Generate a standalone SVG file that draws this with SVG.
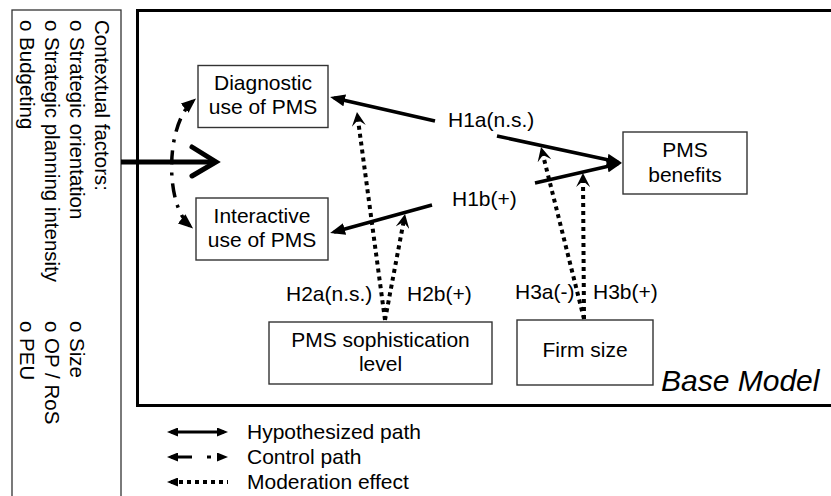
<svg xmlns="http://www.w3.org/2000/svg" width="831" height="496" viewBox="0 0 831 496">
<style>
text{font-family:"Liberation Sans",Arial,sans-serif;font-size:21px;fill:#000}
.box{fill:#fff;stroke:#333;stroke-width:1.4}
.hyp{fill:none;stroke:#000;stroke-width:3.5}
.ctl{fill:none;stroke:#000;stroke-width:3.5;stroke-dasharray:14 8 3 8}
.mod{fill:none;stroke:#000;stroke-width:4;stroke-dasharray:4 4}
.c{text-anchor:middle}
</style>
<defs>
<marker id="arr" markerUnits="userSpaceOnUse" markerWidth="15" markerHeight="12" refX="11" refY="6" orient="auto-start-reverse" viewBox="0 0 15 12">
<path d="M0,0 L15,6 L0,12 z" fill="#000"/>
</marker>
<marker id="arrS" markerUnits="userSpaceOnUse" markerWidth="11" markerHeight="9" refX="7" refY="4.5" orient="auto-start-reverse" viewBox="0 0 11 9">
<path d="M0,0 L11,4.5 L0,9 z" fill="#000"/>
</marker>
<marker id="stealth" markerUnits="userSpaceOnUse" markerWidth="14" markerHeight="14" refX="10" refY="7" orient="auto" viewBox="0 0 14 14">
<path d="M0,0 L14,7 L0,14 L6,7 z" fill="#000"/>
</marker>
</defs>

<rect x="12" y="10" width="109" height="500" fill="#fff" stroke="#333" stroke-width="1.3"/>
<g transform="translate(95,20) rotate(90)" style="font-size:20.5px">
<text x="0" y="0" style="font-size:20.5px">Contextual factors:</text>
<text x="0" y="25" style="font-size:20.5px">o Strategic orientation</text>
<text x="0" y="50" style="font-size:20.5px">o Strategic planning intensity</text>
<text x="0" y="75" style="font-size:20.5px">o Budgeting</text>
<text x="301" y="25" style="font-size:20.5px">o Size</text>
<text x="301" y="50" style="font-size:20.5px">o OP / RoS</text>
<text x="301" y="75" style="font-size:20.5px">o PEU</text>
</g>

<rect x="137.5" y="10.5" width="720" height="395" fill="none" stroke="#000" stroke-width="3"/>
<text x="661" y="391" style="font-size:30px;font-style:italic">Base Model</text>

<g id="connectors">
<path d="M121,162 L214,162" fill="none" stroke="#000" stroke-width="5"/>
<path d="M192,147 L216,162 L192,176" fill="none" stroke="#000" stroke-width="5" stroke-linecap="round"/>
<path class="ctl" d="M190,226 C165,205 165,125 193,101" marker-start="url(#arr)" marker-end="url(#arr)"/>
<line class="hyp" x1="435" y1="121" x2="334" y2="98" marker-end="url(#arr)"/>
<line class="hyp" x1="432" y1="205" x2="334" y2="232" marker-end="url(#arr)"/>
<line class="hyp" x1="497" y1="136" x2="618" y2="162" marker-end="url(#arr)"/>
<line class="hyp" x1="535" y1="183" x2="618" y2="164" marker-end="url(#arr)"/>
<line class="mod" x1="385" y1="320" x2="357.5" y2="116" marker-end="url(#stealth)"/>
<line class="mod" x1="385" y1="320" x2="404.3" y2="218" marker-end="url(#stealth)"/>
<line class="mod" x1="584" y1="319" x2="542" y2="151" marker-end="url(#stealth)"/>
<line class="mod" x1="584" y1="319" x2="583" y2="177" marker-end="url(#stealth)"/>
</g>

<text x="448" y="127">H1a(n.s.)</text>
<text x="452" y="206">H1b(+)</text>
<text x="286" y="301">H2a(n.s.)</text>
<text x="407" y="301">H2b(+)</text>
<text x="515" y="299">H3a(-)</text>
<text x="593" y="299">H3b(+)</text>

<g id="diagnostic">
<rect class="box" x="198" y="65.5" width="130" height="62"/>
<text class="c" x="263" y="90">Diagnostic</text>
<text class="c" x="263" y="114">use of PMS</text>
</g>
<g id="interactive">
<rect class="box" x="196" y="198" width="132" height="62"/>
<text class="c" x="262" y="223">Interactive</text>
<text class="c" x="262" y="247">use of PMS</text>
</g>
<g id="benefits">
<rect class="box" x="623" y="132" width="124" height="62"/>
<text class="c" x="685" y="157">PMS</text>
<text class="c" x="685" y="182">benefits</text>
</g>
<g id="sophistication">
<rect class="box" x="269" y="322" width="223" height="62"/>
<text class="c" x="380.5" y="347">PMS sophistication</text>
<text class="c" x="380.5" y="371">level</text>
</g>
<g id="firmsize">
<rect class="box" x="517" y="320" width="136" height="65"/>
<text class="c" x="585" y="357">Firm size</text>
</g>

<g id="legend">
<line x1="171" y1="432" x2="224" y2="432" stroke="#000" stroke-width="3" marker-start="url(#arrS)" marker-end="url(#arrS)"/>
<line x1="171" y1="457" x2="224" y2="457" stroke="#000" stroke-width="3" stroke-dasharray="21 15 4 30" marker-start="url(#arrS)" marker-end="url(#arrS)"/>
<line x1="171" y1="482" x2="228" y2="482" stroke="#000" stroke-width="4" stroke-dasharray="4 4" marker-start="url(#arrS)"/>
<text x="247" y="439">Hypothesized path</text>
<text x="247" y="464">Control path</text>
<text x="247" y="489">Moderation effect</text>
</g>
</svg>
